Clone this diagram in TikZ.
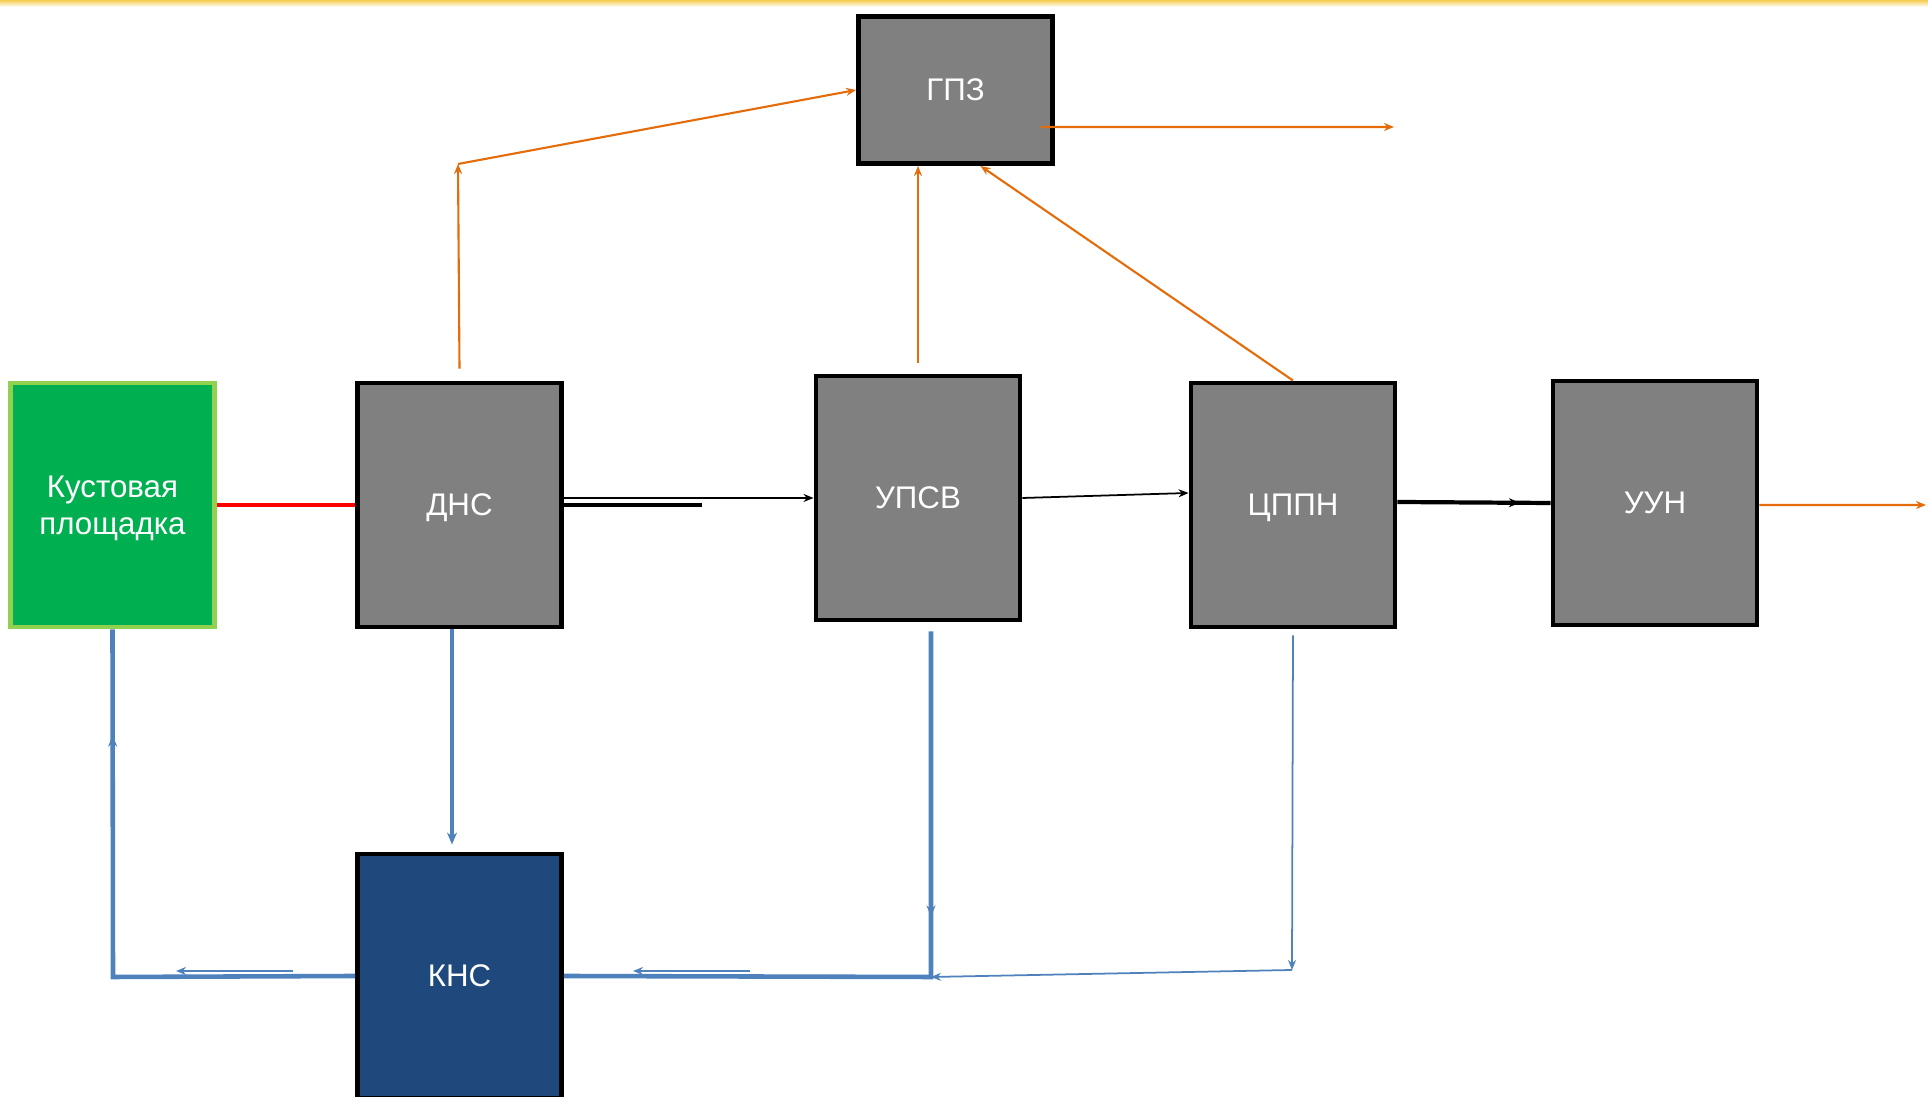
\documentclass[tikz,border=0pt]{standalone}
\usepackage{fontspec}
\setmainfont{Liberation Sans}
\usetikzlibrary{arrows.meta,decorations.markings}
\definecolor{boxgray}{RGB}{128,128,128}
\definecolor{kustgreen}{RGB}{0,176,80}
\definecolor{kustedge}{RGB}{146,208,80}
\definecolor{knsblue}{RGB}{31,73,125}
\definecolor{flowblue}{RGB}{79,129,189}
\definecolor{gasorange}{RGB}{228,108,10}
\definecolor{bandyellow}{RGB}{245,205,80}
\begin{document}
\begin{tikzpicture}[x=0.1mm, y=-0.1mm,
    unit/.style={draw=black, line width=1.4pt, fill=boxgray, text=white, minimum width=20.4mm, minimum height=24.4mm, inner sep=0pt, text depth=0pt, align=center, font=\fontsize{8.9}{10.6}\selectfont},
    tip/.style={-{Stealth[length=1mm,width=0.8mm]}},
    gas/.style={draw=gasorange, line width=0.6pt, tip},
    water/.style={draw=flowblue, line width=1.3pt},
    waterthin/.style={draw=flowblue, line width=0.5pt, tip},
    midtip/.style={postaction={decorate}, decoration={markings, mark=at position #1 with {\arrow{Stealth[length=1.1mm,width=0.9mm]}}}}]
    \useasboundingbox (0,0) rectangle (1928,1097);
    \shade[top color=bandyellow, bottom color=white] (0,0) rectangle (1928,7);

    \node[unit, minimum width=19.4mm, minimum height=14.7mm] (gpz) at (955.5,90) {ГПЗ};
    \node[unit, fill=kustgreen, draw=kustedge] (kust) at (112.5,505) {Кустовая\\площадка};
    \node[unit] (dns) at (459.5,505) {ДНС};
    \node[unit] (upsv) at (918,498) {УПСВ};
    \node[unit] (cppn) at (1293,505) {ЦППН};
    \node[unit] (uun) at (1655,503) {УУН};
    \node[unit, fill=knsblue] (kns) at (459.5,976) {КНС};

    \coordinate (dnsstub) at (702,505);
    \coordinate (uunout) at (1926,505);
    \coordinate (dnsgas) at (458,164);
    \coordinate (gpzout) at (1394,127);
    \coordinate (upsvdrop) at (931,977);
    \coordinate (cppndrop) at (1292,970);
    \coordinate (kustdrop) at (113,977);
    \coordinate (retA) at (750,971);
    \coordinate (retB) at (633,971);
    \coordinate (retC) at (293,971);
    \coordinate (retD) at (176,971);

    \draw[red, line width=1.1pt] (kust.east) -- (dns.west);
    \draw[line width=0.5pt, tip] (dns.east |- upsv.west) -- (upsv.west);
    \draw[line width=1.2pt] (dns.east) -- (dnsstub);
    \draw[line width=0.5pt, tip] (upsv.east) -- ([yshift=1.2mm]cppn.west);
    \draw[line width=1.2pt, midtip=0.8] ([yshift=0.3mm]cppn.east) -- (uun.west);

    \draw[gas] ([yshift=-0.2mm]uun.east) -- (uunout);
    \draw[gas] ([yshift=1.2mm]dns.north) -- (dnsgas);
    \draw[gas] (dnsgas) -- (gpz.west);
    \draw[gas] ([yshift=1.1mm]upsv.north) -- (gpz.south -| upsv.north);
    \draw[gas] (cppn.north) -- ([xshift=2.5mm]gpz.south);
    \draw[gas] ([xshift=-1.4mm,yshift=-3.7mm]gpz.east) -- (gpzout);

    \draw[water, -{Stealth[length=1.2mm,width=1mm]}, shorten >=0.7mm] ([xshift=-0.75mm]dns.south) -- ([xshift=-0.75mm]kns.north);
    \draw[water, midtip=0.4] ([xshift=1.3mm,yshift=-0.9mm]upsv.south) -- (upsvdrop) -- (kns.east);
    \draw[waterthin] ([yshift=-0.6mm]cppn.south) -- (cppndrop);
    \draw[waterthin] (cppndrop) -- (upsvdrop);
    \draw[water, midtip=0.82] (kns.west) -- (kustdrop) -- (kust.south);
    \draw[waterthin] (retA) -- (retB);
    \draw[waterthin] (retC) -- (retD);
\end{tikzpicture}
\end{document}
